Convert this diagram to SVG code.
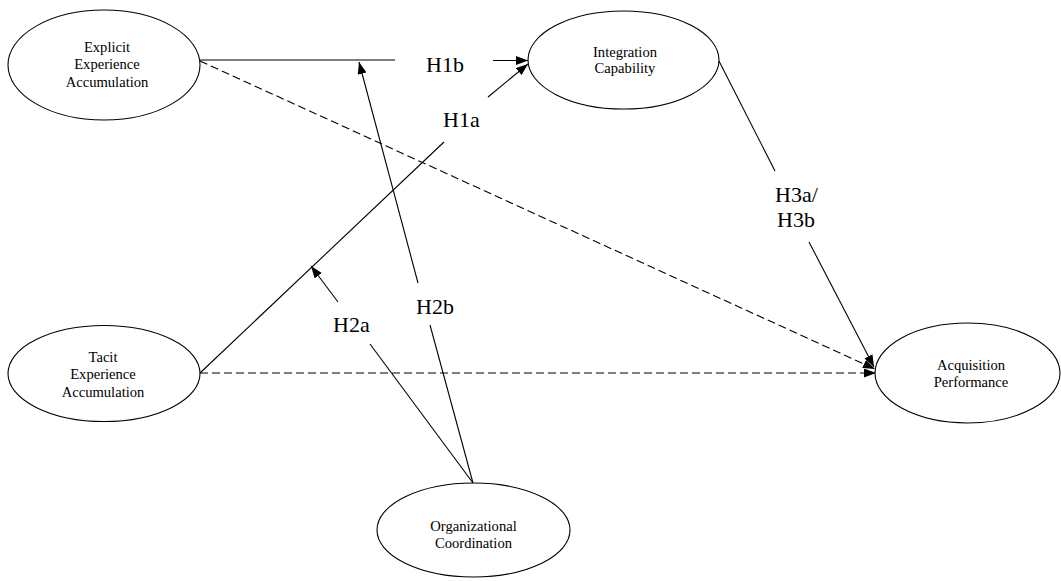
<svg xmlns="http://www.w3.org/2000/svg" width="1061" height="581" viewBox="0 0 1061 581">
<style>
.node ellipse{fill:#fff;stroke:#000;stroke-width:1.1}
.node text{font-family:'Liberation Serif','Times New Roman',serif;font-size:14.6px;fill:#000;text-anchor:middle}
.edge{stroke:#000;stroke-width:1.1;fill:none}
.dash{stroke-dasharray:8 4}
.lbl{font-family:'Liberation Serif','Times New Roman',serif;font-size:22px;fill:#000}
</style>
<defs>
<marker id="arr" markerUnits="userSpaceOnUse" markerWidth="13" markerHeight="10" refX="12" refY="4.5" orient="auto">
<path d="M0,0 L12,4.5 L0,9 z" fill="#000"/>
</marker>
</defs>
<rect width="1061" height="581" fill="#fff"/>
<g id="connectors">
<line class="edge" x1="200" y1="60" x2="395" y2="60"/>
<line class="edge" x1="493" y1="60.5" x2="528" y2="60.5" marker-end="url(#arr)"/>
<line class="edge" x1="200" y1="373" x2="444" y2="142"/>
<line class="edge" x1="488" y1="97" x2="528" y2="64" marker-end="url(#arr)"/>
<line class="edge" x1="473" y1="483" x2="370" y2="344"/>
<line class="edge" x1="338" y1="302" x2="311" y2="266" marker-end="url(#arr)"/>
<line class="edge" x1="473" y1="483" x2="430" y2="325"/>
<line class="edge" x1="418" y1="283" x2="359" y2="62" marker-end="url(#arr)"/>
<line class="edge" x1="719" y1="61" x2="775" y2="171"/>
<line class="edge" x1="809" y1="242" x2="874" y2="367" marker-end="url(#arr)"/>
<line class="edge dash" x1="200" y1="61" x2="875" y2="369" marker-end="url(#arr)"/>
<line class="edge dash" x1="200" y1="373" x2="876" y2="373" marker-end="url(#arr)"/>
<text class="lbl" x="426" y="72">H1b</text>
<text class="lbl" x="443" y="127">H1a</text>
<text class="lbl" x="333" y="332">H2a</text>
<text class="lbl" x="416" y="314">H2b</text>
<text class="lbl" x="775" y="202">H3a/</text>
<text class="lbl" x="777" y="227">H3b</text>
</g>
<g id="explicit" class="node">
<ellipse cx="104" cy="65" rx="96" ry="55"/>
<text x="107" y="51.5">Explicit</text>
<text x="107" y="69">Experience</text>
<text x="107" y="86.5">Accumulation</text>
</g>
<g id="integration" class="node">
<ellipse cx="623.5" cy="60" rx="95.5" ry="49"/>
<text x="625" y="57">Integration</text>
<text x="625" y="72.5">Capability</text>
</g>
<g id="tacit" class="node">
<ellipse cx="104" cy="373.5" rx="96" ry="48"/>
<text x="103" y="361.5">Tacit</text>
<text x="103" y="379">Experience</text>
<text x="103" y="396.5">Accumulation</text>
</g>
<g id="coordination" class="node">
<ellipse cx="473.5" cy="530" rx="96.5" ry="47"/>
<text x="473.5" y="531">Organizational</text>
<text x="473.5" y="547.5">Coordination</text>
</g>
<g id="performance" class="node">
<ellipse cx="967.5" cy="373" rx="92.5" ry="50"/>
<text x="971" y="370">Acquisition</text>
<text x="971" y="386.7">Performance</text>
</g>
</svg>
